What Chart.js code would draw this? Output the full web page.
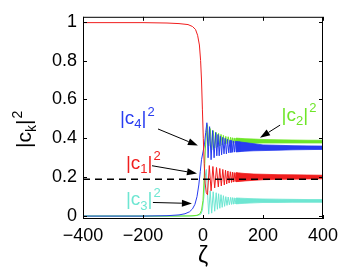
<!DOCTYPE html>
<html>
<head>
<meta charset="utf-8">
<script src="https://cdn.jsdelivr.net/npm/chart.js@4.4.1/dist/chart.umd.min.js"></script>
<style>
  html, body { margin: 0; padding: 0; background: #fff; }
  #wrap { width: 345px; height: 275px; }
</style>
</head>
<body>
<div id="wrap"><canvas id="plot"></canvas></div>
<script>
// tick values
const xTicks = [-400, -200, 0, 200, 400];
const yTicks = [0, 0.2, 0.4, 0.6, 0.8, 1];

// |c1|^2 (red): transition + early oscillations
const c1Zeta = [-400, -300, -200, -120, -80, -50, -35, -25, -18, -12, -8, -5, -2, 1, 4, 7, 11, 15,
  21, 27, 33, 39, 45, 51, 56, 61, 66, 71, 75, 79, 83, 87, 91, 95,
  98, 101, 104, 107, 110, 113, 116, 119, 122];
const c1Val = [0.995, 0.995, 0.995, 0.993, 0.99, 0.985, 0.975, 0.96, 0.93, 0.88, 0.8, 0.7, 0.55, 0.4, 0.27, 0.17, 0.12, 0.11,
  0.26, 0.13, 0.255, 0.145, 0.25, 0.15, 0.245, 0.155, 0.24, 0.16, 0.236, 0.165, 0.232, 0.17, 0.228, 0.173,
  0.226, 0.175, 0.224, 0.177, 0.223, 0.178, 0.222, 0.179, 0.222];

// |c2|^2 (green)
const c2Zeta = [-400, -100, -40, -20, -10, -5, 0, 4, 8, 12, 15, 19, 24, 29, 34, 39, 44, 48, 52, 56,
  60, 64, 68, 72, 76, 80, 84, 88, 92, 95, 98, 101, 104, 107, 110, 113, 116, 119, 122];
const c2Val = [0, 0, 0.001, 0.004, 0.012, 0.03, 0.08, 0.2, 0.35, 0.44, 0.47, 0.36, 0.45, 0.34, 0.44, 0.35, 0.43, 0.355, 0.425, 0.36,
  0.42, 0.365, 0.415, 0.37, 0.41, 0.372, 0.408, 0.374, 0.405, 0.375, 0.403, 0.375, 0.402, 0.376, 0.401, 0.376, 0.4, 0.376, 0.4];

// |c3|^2 (cyan)
const c3Zeta = [-400, -100, -30, -15, -7, -2, 3, 7, 11, 15, 19, 24, 29, 34, 39, 44, 48, 52, 56,
  60, 64, 68, 72, 76, 80, 84, 88, 92, 95, 98, 101, 104, 107, 110, 113, 116, 119, 122];
const c3Val = [0, 0, 0.001, 0.004, 0.01, 0.03, 0.1, 0.2, 0.24, 0.12, 0.01, 0.13, 0.015, 0.125, 0.025, 0.12, 0.035, 0.115, 0.04,
  0.11, 0.045, 0.105, 0.05, 0.1, 0.055, 0.098, 0.058, 0.096, 0.06, 0.095, 0.061, 0.094, 0.062, 0.093, 0.063, 0.093, 0.064, 0.092];

// |c4|^2 (blue)
const c4Zeta = [-400, -200, -120, -80, -60, -45, -35, -27, -20, -14, -9, -5, 0, 5, 9, 13, 17, 22, 27, 32,
  37, 42, 46, 50, 54, 58, 62, 66, 70, 74, 78, 82, 86, 90, 93, 96, 99, 102, 105, 108, 111, 114, 117, 120, 123];
const c4Val = [0, 0, 0.002, 0.006, 0.012, 0.022, 0.037, 0.06, 0.1, 0.16, 0.23, 0.29, 0.33, 0.37, 0.43, 0.48, 0.3, 0.46, 0.29, 0.44,
  0.3, 0.43, 0.31, 0.42, 0.31, 0.41, 0.315, 0.405, 0.32, 0.4, 0.32, 0.395, 0.325, 0.39, 0.327, 0.388, 0.328, 0.386, 0.329, 0.385,
  0.33, 0.383, 0.331, 0.382, 0.332];

// dense oscillation bands (upper / lower envelope)
const bandZeta = [110, 140, 170, 200, 250, 300, 350, 400];
const c1Upper = [0.223, 0.219, 0.216, 0.215, 0.213, 0.212, 0.211, 0.21];
const c1Lower = [0.177, 0.181, 0.184, 0.187, 0.189, 0.19, 0.191, 0.192];
const c2Upper = [0.401, 0.398, 0.396, 0.394, 0.392, 0.391, 0.39, 0.39];
const c2Lower = [0.375, 0.375, 0.375, 0.376, 0.376, 0.376, 0.376, 0.376];
const c3Upper = [0.093, 0.091, 0.089, 0.088, 0.087, 0.086, 0.085, 0.085];
const c3Lower = [0.063, 0.066, 0.068, 0.07, 0.07, 0.071, 0.071, 0.071];
const c4Upper = [0.384, 0.378, 0.372, 0.366, 0.364, 0.362, 0.361, 0.36];
const c4Lower = [0.33, 0.334, 0.336, 0.337, 0.339, 0.341, 0.342, 0.343];

// dashed reference line
const dashZeta = [-400, 400];
const dashVal = [0.19, 0.19];

const colors = {
  c1: 'rgb(240, 30, 30)',
  c2: 'rgb(110, 230, 40)',
  c3: 'rgb(110, 230, 210)',
  c4: 'rgb(40, 60, 240)',
};

// text labels: [sub index, zeta, value, color key]
const labels = [
  ['4', -277, 0.473, 'c4'],
  ['1', -257, 0.244, 'c1'],
  ['3', -257, 0.055, 'c3'],
  ['2', 262, 0.491, 'c2'],
];
// arrows: [zeta1, value1, zeta2, value2]
const arrows = [
  [-150, 0.448, -17, 0.363],
  [-170, 0.259, -20, 0.219],
  [-167, 0.07, -37, 0.065],
  [257, 0.468, 190, 0.403],
];

const pts = (xs, ys) => xs.map((x, i) => ({ x, y: ys[i] }));

const line = (xs, ys, color, order) => ({
  data: pts(xs, ys),
  borderColor: color,
  borderWidth: 1,
  pointRadius: 0,
  fill: false,
  order,
});

const band = (upper, lower, color, order) => [
  { data: pts(bandZeta, upper), borderColor: color, borderWidth: 0.8, pointRadius: 0, fill: false, order },
  { data: pts(bandZeta, lower), borderColor: color, borderWidth: 0.8, pointRadius: 0, fill: '-1', backgroundColor: color, order },
];

const FONT = '"Liberation Sans", Arial, Helvetica, sans-serif';

function drawCk(ctx, x, base, sub, size, color) {
  const small = Math.round(size * 0.68);
  ctx.fillStyle = color;
  ctx.textBaseline = 'alphabetic';
  ctx.textAlign = 'left';
  ctx.font = `${size}px ${FONT}`;
  ctx.fillText('|c', x, base);
  let cx = x + ctx.measureText('|c').width;
  ctx.font = `${small}px ${FONT}`;
  ctx.fillText(sub, cx, base + size * 0.22);
  cx += ctx.measureText(sub).width;
  ctx.font = `${size}px ${FONT}`;
  ctx.fillText('|', cx, base);
  cx += ctx.measureText('|').width + 1;
  ctx.font = `${small}px ${FONT}`;
  ctx.fillText('2', cx, base - size * 0.45);
  cx += ctx.measureText('2').width;
  return cx - x;
}

function drawArrow(ctx, x1, y1, x2, y2) {
  const ang = Math.atan2(y2 - y1, x2 - x1);
  const len = 10, half = 3.5;
  const bx = x2 - len * Math.cos(ang), by = y2 - len * Math.sin(ang);
  ctx.strokeStyle = '#000';
  ctx.fillStyle = '#000';
  ctx.lineWidth = 1;
  ctx.beginPath();
  ctx.moveTo(x1, y1);
  ctx.lineTo(bx, by);
  ctx.stroke();
  ctx.beginPath();
  ctx.moveTo(x2, y2);
  ctx.lineTo(bx + half * Math.sin(ang), by - half * Math.cos(ang));
  ctx.lineTo(bx - half * Math.sin(ang), by + half * Math.cos(ang));
  ctx.closePath();
  ctx.fill();
}

const decorations = {
  id: 'decorations',
  afterDraw(chart) {
    const { ctx, chartArea: a, scales: { x, y } } = chart;
    ctx.save();
    // box and inward ticks
    ctx.strokeStyle = '#000';
    ctx.lineWidth = 1;
    ctx.strokeRect(a.left + 0.5, a.top + 0.5, a.width - 1, a.height - 1);
    ctx.beginPath();
    xTicks.forEach((t) => {
      const px = Math.round(x.getPixelForValue(t)) + 0.5;
      ctx.moveTo(px, a.bottom); ctx.lineTo(px, a.bottom - 4);
      ctx.moveTo(px, a.top); ctx.lineTo(px, a.top + 4);
    });
    yTicks.forEach((t) => {
      const py = Math.round(y.getPixelForValue(t)) + 0.5;
      ctx.moveTo(a.left, py); ctx.lineTo(a.left + 4, py);
      ctx.moveTo(a.right, py); ctx.lineTo(a.right - 4, py);
    });
    ctx.stroke();

    // curve labels and arrows
    labels.forEach(([sub, zx, vy, key]) => {
      drawCk(ctx, x.getPixelForValue(zx), y.getPixelForValue(vy), sub, 19, colors[key]);
    });
    arrows.forEach(([z1, v1, z2, v2]) => {
      drawArrow(ctx, x.getPixelForValue(z1), y.getPixelForValue(v1), x.getPixelForValue(z2), y.getPixelForValue(v2));
    });

    // axis titles
    ctx.save();
    ctx.translate(31, (a.top + a.bottom) / 2 + 7);
    ctx.rotate(-Math.PI / 2);
    drawCk(ctx, -23, 0, 'k', 21, '#000');
    ctx.restore();

    ctx.fillStyle = '#000';
    ctx.font = `23px ${FONT}`;
    ctx.textAlign = 'center';
    ctx.textBaseline = 'middle';
    ctx.fillText('\u03b6', x.getPixelForValue(0), 257);
    ctx.restore();
  },
};

new Chart(document.getElementById('plot'), {
  type: 'line',
  data: {
    datasets: [
      line(dashZeta, dashVal, '#000', 0),
      line(c1Zeta, c1Val, colors.c1, 1),
      ...band(c1Upper, c1Lower, colors.c1, 1),
      line(c4Zeta, c4Val, colors.c4, 2),
      ...band(c4Upper, c4Lower, colors.c4, 2),
      line(c2Zeta, c2Val, colors.c2, 3),
      ...band(c2Upper, c2Lower, colors.c2, 3),
      line(c3Zeta, c3Val, colors.c3, 4),
      ...band(c3Upper, c3Lower, colors.c3, 4),
    ].map((d, i) => (i === 0 ? { ...d, borderDash: [7, 5], borderWidth: 1.5 } : d)),
  },
  options: {
    responsive: true,
    maintainAspectRatio: false,
    animation: false,
    events: [],
    layout: { padding: { left: 0, right: 22, top: 10, bottom: 0 } },
    plugins: { legend: { display: false }, tooltip: { enabled: false } },
    elements: { line: { tension: 0 } },
    scales: {
      x: {
        type: 'linear',
        min: -400,
        max: 400,
        afterBuildTicks: (s) => { s.ticks = xTicks.map((v) => ({ value: v })); },
        afterFit: (s) => { s.height = 56; },
        grid: { display: false, drawTicks: false },
        border: { display: false },
        ticks: {
          padding: 6,
          color: '#000',
          font: { family: FONT, size: 18 },
          callback: (v) => String(v).replace('-', '\u2212'),
        },
      },
      y: {
        type: 'linear',
        min: -0.015,
        max: 1.025,
        afterBuildTicks: (s) => { s.ticks = yTicks.map((v) => ({ value: v })); },
        afterFit: (s) => { s.width = 83; },
        grid: { display: false, drawTicks: false },
        border: { display: false },
        ticks: {
          padding: 6,
          color: '#000',
          font: { family: FONT, size: 18 },
          callback: (v) => String(v),
        },
      },
    },
  },
  plugins: [decorations],
});
</script>
</body>
</html>
